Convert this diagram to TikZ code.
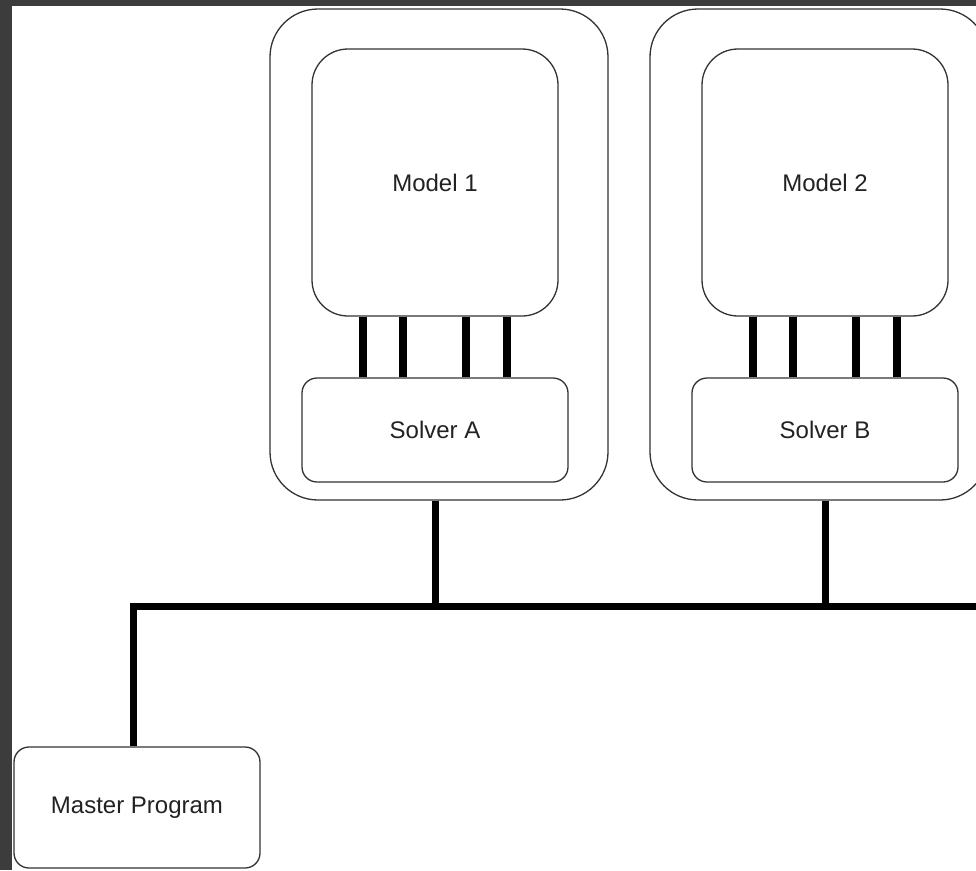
\documentclass[tikz,border=0pt]{standalone}
\usepackage{fontspec}
\setmainfont{Liberation Sans}
\definecolor{bgdark}{HTML}{3C3C3C}
\definecolor{edge}{HTML}{333333}
\definecolor{txt}{HTML}{222222}
\begin{document}
\begin{tikzpicture}[x=1pt,y=-1pt,
  box/.style={draw=edge,line width=1.3pt,fill=white,inner sep=0pt,
    font=\fontsize{24}{28}\selectfont,text=txt},
  outerbox/.style={box,rounded corners=48pt,minimum width=338pt,minimum height=491pt},
  modelbox/.style={box,rounded corners=36pt,minimum width=246pt,minimum height=267pt},
  solverbox/.style={box,rounded corners=15pt,minimum width=266pt,minimum height=104pt},
  masterbox/.style={box,rounded corners=15pt,minimum width=246pt,minimum height=121pt},
  bar/.style={line width=8pt,black},
  bus/.style={line width=7pt,black,line join=miter}]
\useasboundingbox (0,0) rectangle (976,870);
\fill[bgdark] (0,0) rectangle (976,870);
\fill[white] (12,6) rectangle (976,870);

\node[outerbox] (oa) at (439,254.5) {};
\node[outerbox] (ob) at (819,254.5) {};
\node[modelbox] (m1) at (435,182.5) {Model 1};
\node[modelbox] (m2) at (825,182.5) {Model 2};
\node[solverbox] (sa) at (435,430) {Solver A};
\node[solverbox] (sb) at (825,430) {Solver B};
\node[masterbox] (ms) at (137,807.5) {Master Program};

\foreach \d in {-72,-32,31,72}{
  \draw[bar] ([xshift=\d pt]m1.south) -- ([xshift=\d pt]sa.north);
  \draw[bar] ([xshift=\d pt]m2.south) -- ([xshift=\d pt]sb.north);
}

\coordinate (busL) at (133,606);
\coordinate (busR) at (980,606);
\draw[bus] (busL |- ms.north) -- (busL) -- (busR);
\draw[bus] (sa |- oa.south) -- (sa |- busL);
\draw[bus] (sb |- ob.south) -- (sb |- busL);
\end{tikzpicture}
\end{document}
